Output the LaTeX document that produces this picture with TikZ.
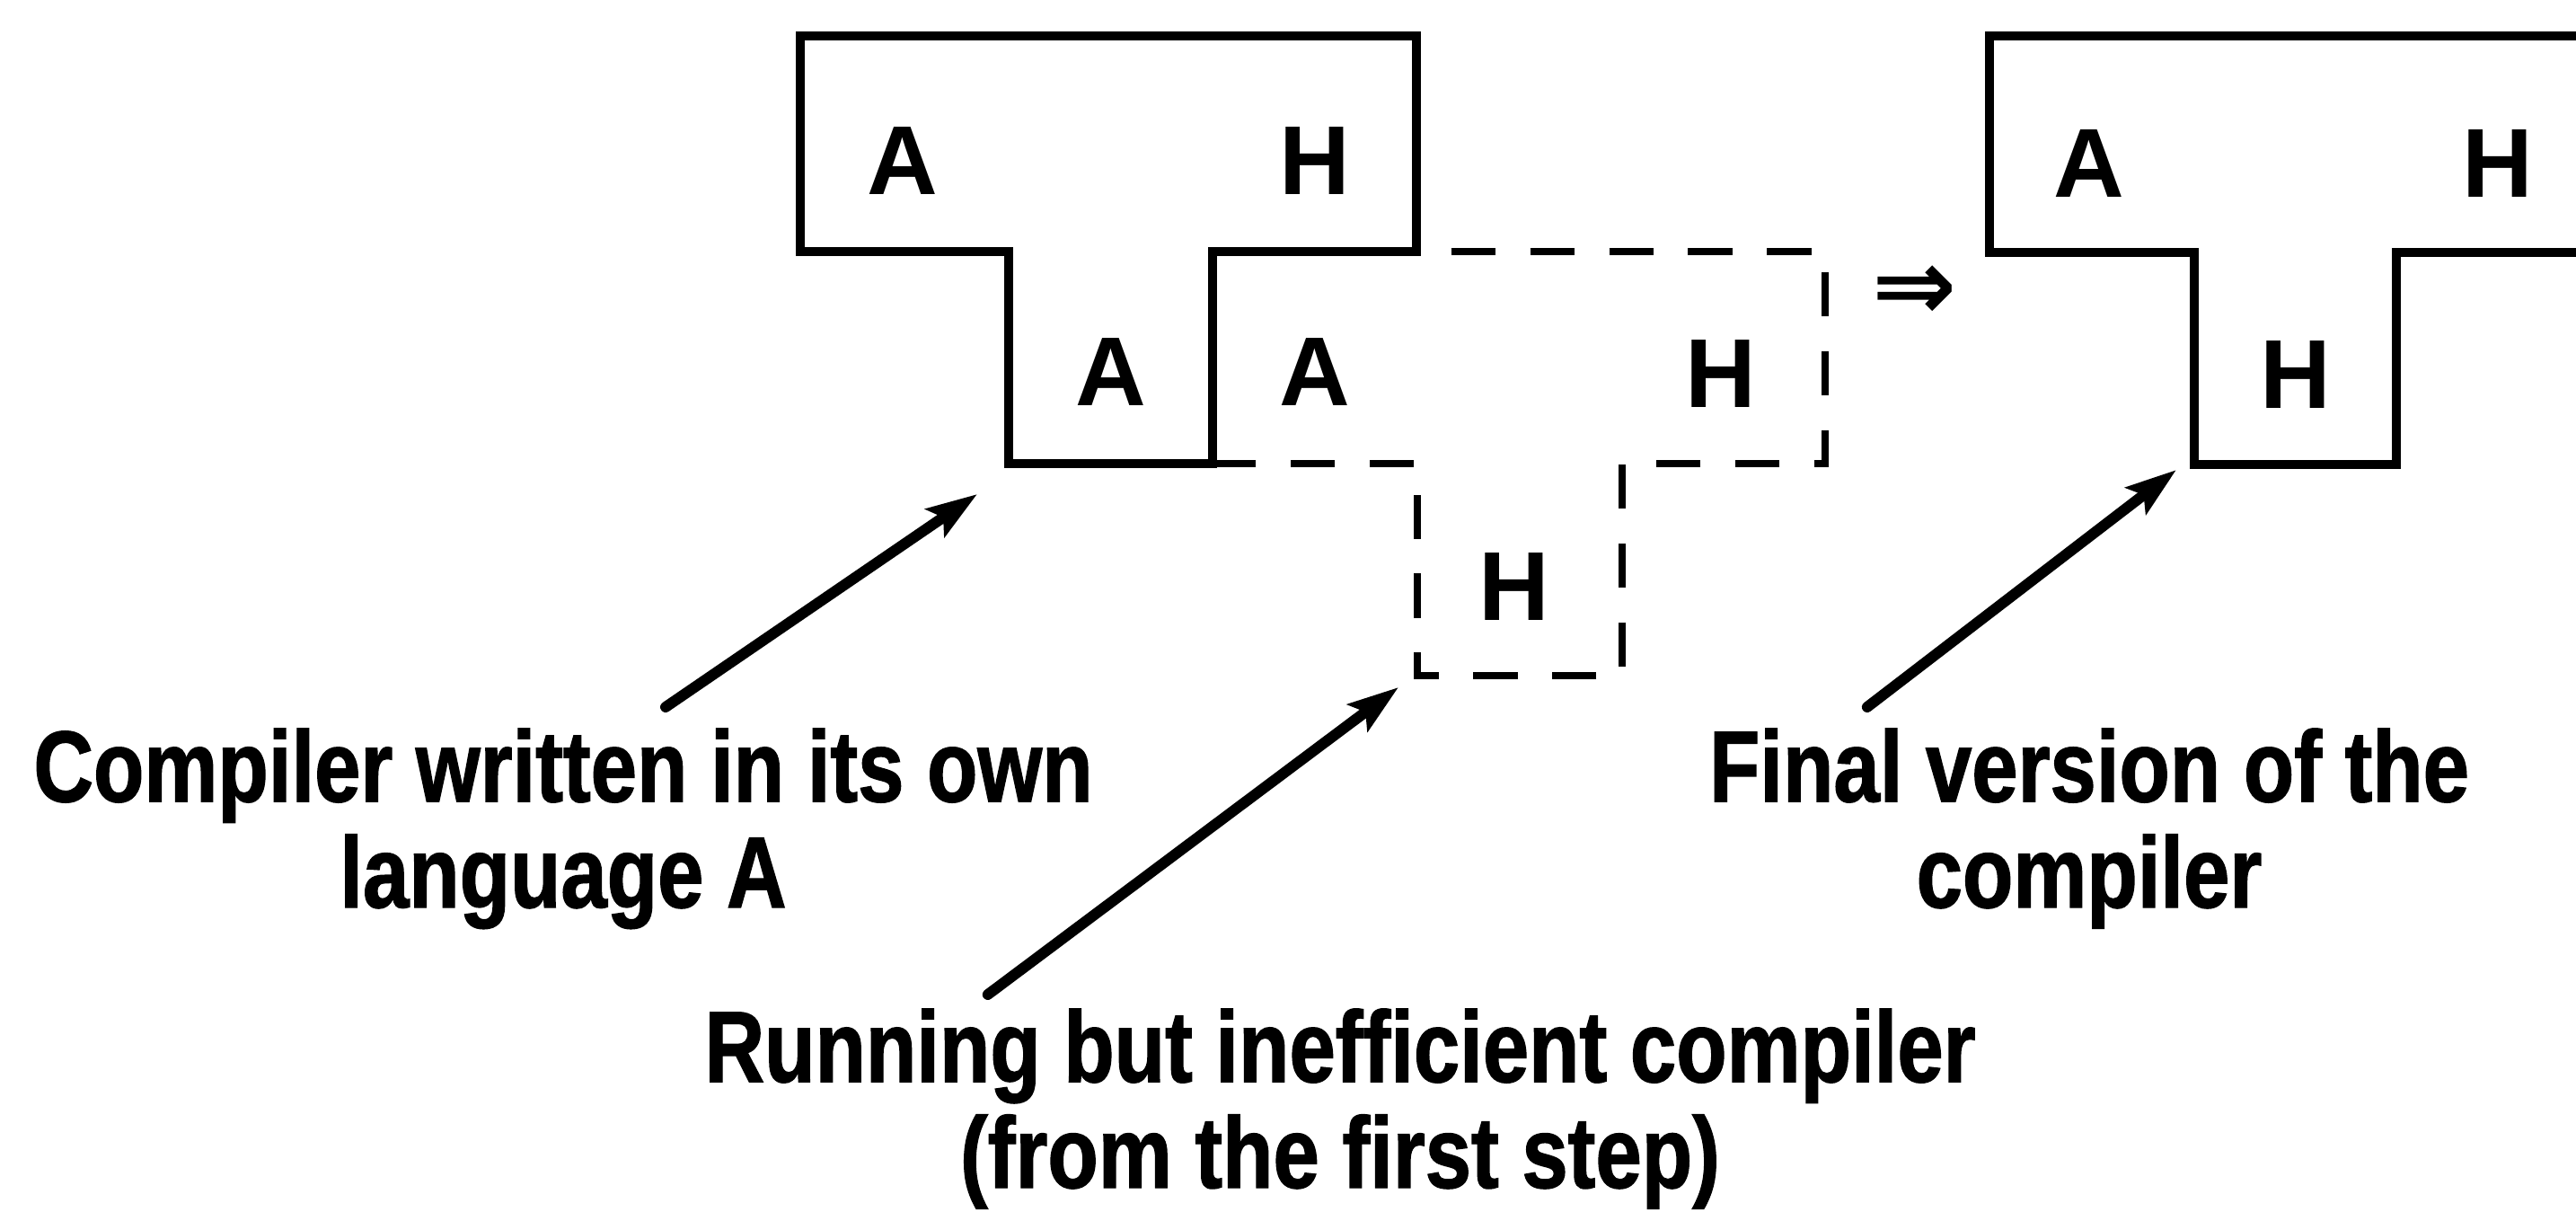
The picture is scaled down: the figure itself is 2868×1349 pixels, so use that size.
\documentclass[tikz,border=0pt]{standalone}
\usepackage{fontspec}
\usepackage{tikz}
\usetikzlibrary{arrows.meta}
\newfontfamily\notefont[FakeStretch=0.82, FakeBold=1.2]{Liberation Sans}
\newfontfamily\boxfont{Liberation Sans}
\newfontfamily\symfont{DejaVu Sans}
\newcommand{\yieldsign}{\symfont\bfseries\fontsize{32}{32}\selectfont ⇒}

\begin{document}
\begin{tikzpicture}[%
x=0.01cm, y=-0.01cm,
>={Stealth[length=16pt,width=10.5pt,inset=3pt]},
tbox/.style={line width=2.7pt},
tdash/.style={line width=2.4pt, dash pattern=on 14pt off 11pt, dash phase=14pt},
lang/.style={font=\boxfont\bfseries\fontsize{31}{31}\selectfont, inner sep=0pt},
note/.style={font=\notefont\bfseries\fontsize{32}{33.5}\selectfont,
  align=center, inner sep=0pt, anchor=north},
pointer/.style={->, line width=3.4pt, line cap=round}
]
\useasboundingbox (0,0) rectangle (2868,1349);

% compiler written in its own language
\draw[tbox] (891,40) -- (1577,40) -- (1577,280) -- (1350,280) -- (1350,516)
      -- (1123,516) -- (1123,280) -- (891,280) -- cycle;
\coordinate (origfoot) at (1123,516);
\node[lang] (origA) at (1005,179) {A};
\node[lang] (origH) at (1464,179) {H};
\node[lang] (origS) at (1237,414) {A};

% running compiler from the first step
\draw[tdash] (1577,280) -- (2032,280) -- (2032,516) -- (1806,516)
      -- (1806,752) -- (1578,752) -- (1578,516) -- (1350,516);
\coordinate (bootfoot) at (1578,752);
\node[lang] (bootA) at (1464,414) {A};
\node[lang] (bootH) at (1916,416) {H};
\node[lang] (bootS) at (1686,653) {H};

\node[inner sep=0pt] (yields) at (2132,326) {\yieldsign};

% final compiler (runs off the right edge)
\draw[tbox] (2868,40) -- (2215,40) -- (2215,281) -- (2443,281) -- (2443,517)
      -- (2668,517) -- (2668,281) -- (2868,281);
\coordinate (finalfoot) at (2443,517);
\node[lang] (finalA) at (2326,182) {A};
\node[lang] (finalH) at (2781,182) {H};
\node[lang] (finalS) at (2556,417) {H};

% notes
\node[note] (written) at (627,810) {Compiler written in its own\\language A};
\node[note] (running) at (1492,1122) {Running but inefficient compiler\\(from the first step)};
\node[note] (final) at (2326,810) {Final version of the\\compiler};

\draw[pointer] ([xshift=1.14cm, yshift=0.23cm] written.north)
      -- ([xshift=-0.35cm, yshift=-0.34cm] origfoot);
\draw[pointer] ([xshift=-3.92cm, yshift=0.15cm] running.north)
      -- ([xshift=-0.21cm, yshift=-0.13cm] bootfoot);
\draw[pointer] ([xshift=-2.47cm, yshift=0.23cm] final.north)
      -- ([xshift=-0.2cm, yshift=-0.06cm] finalfoot);

\end{tikzpicture}
\end{document}
